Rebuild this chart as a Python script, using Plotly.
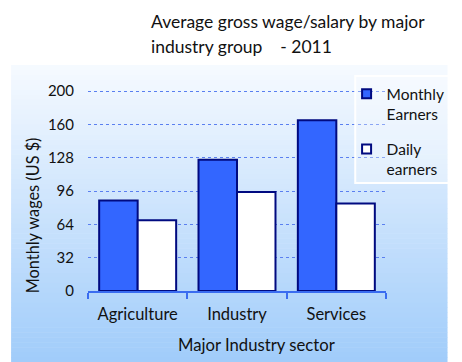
import plotly.graph_objects as go

categories = ["Agriculture", "Industry", "Services"]
monthly = [87, 126, 164]
daily = [68, 95, 84]
tick_vals = [0, 32, 64, 96, 128, 160, 192]
tick_text = ["0", "32", "64", "96", "128", "160", "200"]

W, H = 462, 362
YMAX = 194
L, R, B = 88, 64, 71
ph = 200 * YMAX / 192
T = H - B - ph
pw = W - L - R

def px(x):
    return (x - L) / pw

def py(y):
    return (H - B - y) / ph

FONT = "Lato"
NAVY = "#000a80"
BLUE = "#3366ff"

fig = go.Figure()
fig.add_trace(go.Bar(x=categories, y=monthly, name="Monthly", showlegend=False,
                     marker=dict(color=BLUE, line=dict(color=NAVY, width=2))))
fig.add_trace(go.Bar(x=categories, y=daily, name="Daily", showlegend=False,
                     marker=dict(color="#ffffff", line=dict(color=NAVY, width=2))))
# legend entries
fig.add_trace(go.Scatter(x=[None], y=[None], mode="markers", name="Monthly<br>Earners",
                         legendgroup="a",
                         marker=dict(symbol="square", size=9, color=BLUE,
                                     line=dict(color=NAVY, width=2))))
fig.add_trace(go.Scatter(x=[None], y=[None], mode="markers", name="Daily<br>earners",
                         legendgroup="b",
                         marker=dict(symbol="square", size=9, color="#ffffff",
                                     line=dict(color=NAVY, width=2))))

# gradient background panel
shapes = []
n = 60
top, bot = 65, 362
c0 = (246, 250, 255)
c1 = (160, 204, 250)
for i in range(n):
    y0 = top + (bot - top) * i / n
    y1 = top + (bot - top) * (i + 1) / n + 0.5
    t = (i + 0.5) / n
    col = tuple(round(c0[k] + (c1[k] - c0[k]) * t) for k in range(3))
    shapes.append(dict(type="rect", xref="paper", yref="paper", layer="below",
                       x0=px(8), x1=px(462), y0=py(y0), y1=py(min(y1, bot)),
                       line=dict(width=0), fillcolor="rgb(%d,%d,%d)" % col))
# legend box
shapes.append(dict(type="rect", xref="paper", yref="paper", layer="above",
                   x0=px(366), x1=px(466), y0=py(76), y1=py(183),
                   line=dict(color="white", width=2), fillcolor="rgba(255,255,255,0.3)"))

annotations = [
    dict(text="Average gross wage/salary by major", xref="paper", yref="paper",
         x=px(151), y=py(21), xanchor="left", yanchor="middle", showarrow=False,
         font=dict(family=FONT, size=17.5, color="#111111")),
    dict(text="industry group\u00a0\u00a0\u00a0\u00a0- 2011", xref="paper", yref="paper",
         x=px(151), y=py(46), xanchor="left", yanchor="middle", showarrow=False,
         font=dict(family=FONT, size=17.5, color="#111111")),
    dict(text="Monthly wages (US $)", xref="paper", yref="paper", textangle=-90,
         x=px(30), y=py(215), xanchor="center", yanchor="middle", showarrow=False,
         font=dict(family=FONT, size=16.3, color="#111111")),
    dict(text="Major Industry sector", xref="paper", yref="paper",
         x=px(263), y=py(345), xanchor="center", yanchor="middle", showarrow=False,
         font=dict(family=FONT, size=16.7, color="#111111")),
]

fig.update_layout(
    width=W, height=H,
    margin=dict(l=L, r=R, t=T, b=B, pad=0),
    paper_bgcolor="white", plot_bgcolor="rgba(0,0,0,0)",
    barmode="group", bargap=0.225, bargroupgap=0,
    shapes=shapes, annotations=annotations,
    font=dict(family=FONT, color="#111111"),
    legend=dict(x=px(357), y=py(77), xanchor="left", yanchor="top",
                bgcolor="rgba(0,0,0,0)", borderwidth=0,
                font=dict(family=FONT, size=15.5, color="#111111"),
                valign="top", itemwidth=30, tracegroupgap=12,
                traceorder="grouped"),
    showlegend=True,
)
fig.update_xaxes(showline=True, linecolor="#3a6cf0", linewidth=2,
                 ticks="outside", tickson="boundaries", ticklen=6, tickwidth=2,
                 tickcolor="#3a6cf0", showgrid=False,
                 tickfont=dict(family=FONT, size=16.5, color="#111111"),
                 ticklabelstandoff=7)
fig.update_yaxes(range=[0, YMAX], tickvals=tick_vals, ticktext=tick_text,
                 showgrid=True, gridcolor="#5a7ff0", griddash="dot", gridwidth=1,
                 zeroline=False, showline=False, ticks="outside", ticklen=10,
                 tickcolor="rgba(0,0,0,0)",
                 tickfont=dict(family=FONT, size=15, color="#111111"))

fig.write_html("out.html")
